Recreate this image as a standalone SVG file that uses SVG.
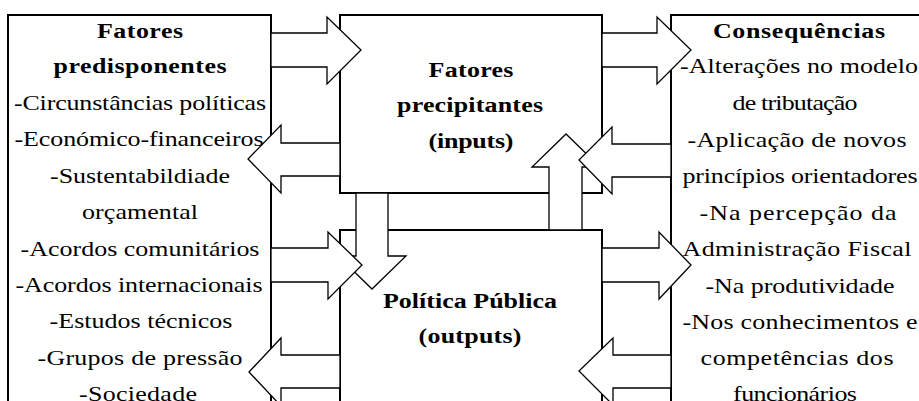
<svg xmlns="http://www.w3.org/2000/svg" width="919" height="401" viewBox="0 0 919 401">
  <style>
    .box { fill: #ffffff; stroke: #000000; stroke-width: 2; }
    .arrow { fill: #ffffff; stroke: #000000; stroke-width: 1.3; stroke-linejoin: miter; }
    text { font-family: "Liberation Serif", "Times New Roman", serif; font-size: 22px; fill: #000000; text-anchor: middle; }
    .b { font-weight: bold; }
  </style>
  <rect width="919" height="401" fill="#ffffff"/>

  <!-- boxes -->
  <g id="predisponentes">
    <rect class="box" x="8" y="15" width="263" height="420"/>
  </g>
  <g id="precipitantes">
    <rect class="box" x="340" y="15" width="262" height="178"/>
  </g>
  <g id="politica">
    <rect class="box" x="340" y="230" width="262" height="200"/>
  </g>
  <g id="consequencias">
    <rect class="box" x="671" y="15" width="270" height="420"/>
  </g>

  <!-- block arrows -->
  <g id="connectors">
    <polygon class="arrow" points="271,33 327,33 327,17 361,50 327,84 327,67 271,67"/>
    <polygon class="arrow" points="340,143 281,143 281,125 248,159 281,193 281,176 340,176"/>
    <polygon class="arrow" points="356,193 388,193 388,256 406,256 372,289 338,256 356,256"/>
    <polygon class="arrow" points="271,248 328,248 328,232 362,265 328,299 328,282 271,282"/>
    <polygon class="arrow" points="340,355 281,355 281,338 249,372 281,406 281,388 340,388"/>
    <polygon class="arrow" points="549,230 549,167 532,167 566,134 600,167 582,167 582,230"/>
    <polygon class="arrow" points="602,33 657,33 657,17 691,50 657,84 657,67 602,67"/>
    <polygon class="arrow" points="671,144 612,144 612,127 579,160 612,194 612,177 671,177"/>
    <polygon class="arrow" points="602,248 659,248 659,232 691,265 659,299 659,282 602,282"/>
    <polygon class="arrow" points="671,355 613,355 613,338 579,371 613,405 613,388 671,388"/>
  </g>

  <!-- labels: each line is widened by 1.18 horizontally, textLength in the widened units -->
  <g id="predisponentes-text">
    <text class="b" transform="translate(140,38) scale(1.18,1)" textLength="72.9" lengthAdjust="spacing">Fatores</text>
    <text class="b" transform="translate(140,73) scale(1.18,1)" textLength="146.6" lengthAdjust="spacing">predisponentes</text>
    <text transform="translate(140,110) scale(1.18,1)" textLength="213.6" lengthAdjust="spacing">-Circunstâncias políticas</text>
    <text transform="translate(139,146) scale(1.18,1)" textLength="211" lengthAdjust="spacing">-Económico-financeiros</text>
    <text transform="translate(140,183) scale(1.18,1)" textLength="152.5" lengthAdjust="spacing">-Sustentabildiade</text>
    <text transform="translate(140,219) scale(1.18,1)" textLength="98.3" lengthAdjust="spacing">orçamental</text>
    <text transform="translate(140,256) scale(1.18,1)" textLength="202.5" lengthAdjust="spacing">-Acordos comunitários</text>
    <text transform="translate(139,292) scale(1.18,1)" textLength="209.3" lengthAdjust="spacing">-Acordos internacionais</text>
    <text transform="translate(141,328) scale(1.18,1)" textLength="155" lengthAdjust="spacing">-Estudos técnicos</text>
    <text transform="translate(140,365) scale(1.18,1)" textLength="173.7" lengthAdjust="spacing">-Grupos de pressão</text>
    <text transform="translate(138,401) scale(1.18,1)" textLength="100" lengthAdjust="spacing">-Sociedade</text>
  </g>
  <g id="precipitantes-text">
    <text class="b" transform="translate(471,77) scale(1.18,1)" textLength="72" lengthAdjust="spacing">Fatores</text>
    <text class="b" transform="translate(470,112) scale(1.18,1)" textLength="123.7" lengthAdjust="spacing">precipitantes</text>
    <text class="b" transform="translate(471,148) scale(1.18,1)" textLength="72" lengthAdjust="spacing">(inputs)</text>
  </g>
  <g id="politica-text">
    <text class="b" transform="translate(470,308) scale(1.18,1)" textLength="147.5" lengthAdjust="spacing">Política Pública</text>
    <text class="b" transform="translate(470,343) scale(1.18,1)" textLength="87.3" lengthAdjust="spacing">(outputs)</text>
  </g>
  <g id="consequencias-text">
    <text class="b" transform="translate(799,38) scale(1.18,1)" textLength="145.8" lengthAdjust="spacing">Consequências</text>
    <text transform="translate(799,73) scale(1.18,1)" textLength="201.7" lengthAdjust="spacing">-Alterações no modelo</text>
    <text transform="translate(795,110) scale(1.18,1)" textLength="106" lengthAdjust="spacing">de tributação</text>
    <text transform="translate(797,147) scale(1.18,1)" textLength="185.6" lengthAdjust="spacing">-Aplicação de novos</text>
    <text transform="translate(800,183) scale(1.18,1)" textLength="199.2" lengthAdjust="spacing">princípios orientadores</text>
    <text transform="translate(798,220) scale(1.18,1)" textLength="167" lengthAdjust="spacing">-Na percepção da</text>
    <text transform="translate(797,256) scale(1.18,1)" textLength="194" lengthAdjust="spacing">Administração Fiscal</text>
    <text transform="translate(800,293) scale(1.18,1)" textLength="160.2" lengthAdjust="spacing">-Na produtividade</text>
    <text transform="translate(800,329) scale(1.18,1)" textLength="199.2" lengthAdjust="spacing">-Nos conhecimentos e</text>
    <text transform="translate(797,365) scale(1.18,1)" textLength="163.6" lengthAdjust="spacing">competências dos</text>
    <text transform="translate(795,401) scale(1.18,1)" textLength="105" lengthAdjust="spacing">funcionários</text>
  </g>
</svg>
